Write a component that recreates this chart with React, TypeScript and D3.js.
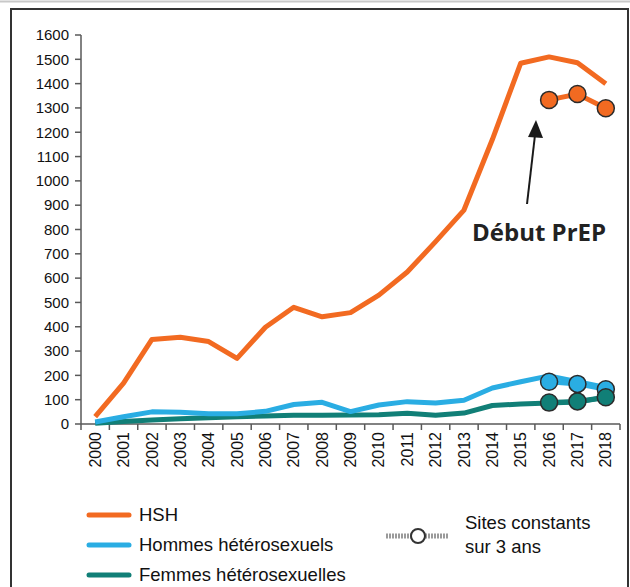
import React from "react";
import * as d3 from "d3";

const years = ["2000","2001","2002","2003","2004","2005","2006","2007","2008","2009","2010","2011","2012","2013","2014","2015","2016","2017","2018"];
const hsh = [30,168,348,357,339,270,398,480,441,458,530,625,750,880,1170,1484,1510,1486,1399];
const hommes = [8,30,50,48,42,42,52,80,89,51,78,92,86,98,148,174,198,174,150];
const femmes = [3,10,16,22,26,30,33,36,36,37,38,44,36,45,76,82,86,90,110];
const constYears = ["2016","2017","2018"];
const hshConst = [1333,1357,1299];
const hommesConst = [174,165,143];
const femmesConst = [88,93,110];
const yTicks = [0,100,200,300,400,500,600,700,800,900,1000,1100,1200,1300,1400,1500,1600];

const C_HSH = "#F26A21";
const C_HOM = "#2AADE3";
const C_FEM = "#117F77";
const FONT = "'Liberation Sans', Arial, sans-serif";

export default function App() {
  const W = 630, H = 587;
  const x = d3.scaleBand<string>().domain(years).range([81, 620]).padding(0);
  const cx = (yr: string) => (x(yr) as number) + x.bandwidth() / 2;
  const y = d3.scaleLinear().domain([0, 1600]).range([424, 35]);
  const line = d3.line<[string, number]>().x(d => cx(d[0])).y(d => y(d[1]));
  const zip = (ys: string[], vs: number[]) => ys.map((yr, i) => [yr, vs[i]] as [string, number]);

  const series = [
    { v: femmes, c: C_FEM },
    { v: hommes, c: C_HOM },
    { v: hsh, c: C_HSH },
  ];
  const consts = [
    { v: hshConst, c: C_HSH },
    { v: hommesConst, c: C_HOM },
    { v: femmesConst, c: C_FEM },
  ];
  const tickBounds = d3.range(years.length + 1).map(i => 81 + i * x.step());

  return (
    <svg width={W} height={H} style={{ position: "absolute", left: 0, top: 0 }} fontFamily={FONT}>
      <rect x={0} y={0} width={W} height={H} fill="#fff" />
      <line x1={0} y1={1.5} x2={W} y2={1.5} stroke="#c8c8c8" strokeWidth={2} />
      <rect x={11} y={9} width={W - 13} height={H + 20} fill="none" stroke="#333" strokeWidth={2} />

      {/* y axis */}
      <line x1={81} y1={y(1600)} x2={81} y2={y(0)} stroke="#595959" strokeWidth={1.5} />
      {yTicks.map(t => (
        <g key={t}>
          <line x1={75} x2={81} y1={y(t)} y2={y(t)} stroke="#595959" strokeWidth={1.5} />
          <text x={69} y={y(t)} dy="0.35em" textAnchor="end" fontSize={15} fill="#111">{t}</text>
        </g>
      ))}
      {/* x axis */}
      <line x1={81} y1={y(0)} x2={620} y2={y(0)} stroke="#595959" strokeWidth={1.5} />
      {tickBounds.map((b, i) => (
        <line key={i} x1={b} x2={b} y1={y(0)} y2={y(0) + 6} stroke="#595959" strokeWidth={1.5} />
      ))}
      {years.map(yr => (
        <text key={yr} transform={`translate(${cx(yr)},${432}) rotate(-90)`} dy="0.35em" textAnchor="end" fontSize={16} fill="#111">{yr}</text>
      ))}

      {series.map((s, i) => (
        <path key={i} d={line(zip(years, s.v)) as string} fill="none" stroke={s.c} strokeWidth={5} strokeLinejoin="round" />
      ))}
      {consts.map((s, i) => (
        <g key={i}>
          <path d={line(zip(constYears, s.v)) as string} fill="none" stroke={s.c} strokeWidth={5} />
          {s.v.map((v, j) => (
            <circle key={j} cx={cx(constYears[j])} cy={y(v)} r={8.5} fill={s.c} stroke="#2b2b2b" strokeWidth={1.5} />
          ))}
        </g>
      ))}

      {/* annotation */}
      <line x1={527} y1={204} x2={535} y2={135} stroke="#1a1a1a" strokeWidth={2} />
      <path d="M528,137 L536,120 L543,138 Z" fill="#1a1a1a" />
      <text x={472} y={241} fontFamily="'Open Sans', sans-serif" fontWeight="bold" fontSize={24} fill="#222">Début PrEP</text>

      {/* legend */}
      {[
        { label: "HSH", c: C_HSH, ly: 515 },
        { label: "Hommes hétérosexuels", c: C_HOM, ly: 545 },
        { label: "Femmes hétérosexuelles", c: C_FEM, ly: 575 },
      ].map(l => (
        <g key={l.label}>
          <line x1={89} x2={129} y1={l.ly} y2={l.ly} stroke={l.c} strokeWidth={5} strokeLinecap="round" />
          <text x={139} y={l.ly} dy="0.35em" fontSize={18.5} fill="#111">{l.label}</text>
        </g>
      ))}
      <line x1={386} x2={449} y1={536} y2={536} stroke="#9a9a9a" strokeWidth={5} strokeDasharray="2 1" />
      <circle cx={418} cy={536} r={7} fill="#fff" stroke="#333" strokeWidth={2} />
      <text x={465} y={529} fontSize={18.5} fill="#111">Sites constants</text>
      <text x={465} y={553} fontSize={18.5} fill="#111">sur 3 ans</text>
    </svg>
  );
}
